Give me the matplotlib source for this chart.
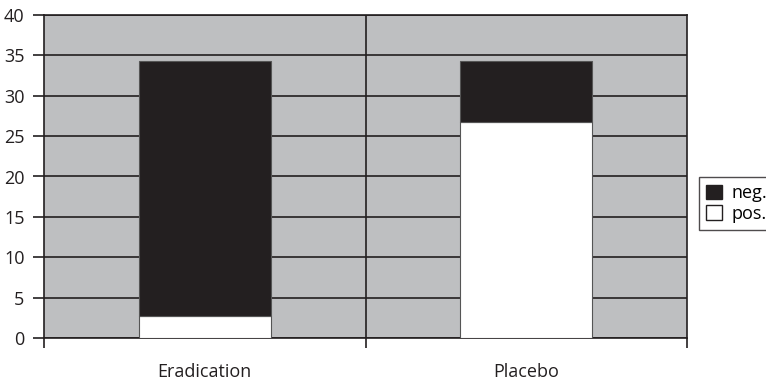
import matplotlib.pyplot as plt
from matplotlib.patches import Patch

# Stacked bar data
groups = ['Eradication', 'Placebo']
pos_vals = [2.7, 26.8]
neg_vals = [31.6, 7.5]
y_ticks = [0, 5, 10, 15, 20, 25, 30, 35, 40]

plt.rcParams['font.family'] = ['Open Sans', 'DejaVu Sans']

fig = plt.figure(figsize=(7.66, 3.84), dpi=100)
ax = fig.add_axes([44 / 766, 1 - 338 / 384, (687 - 44) / 766, (338 - 15) / 384])
ax.set_facecolor('#bebfc1')

x = [0.5, 1.5]
ax.bar(x, pos_vals, width=0.41, color='white', edgecolor='#555555', linewidth=0.8, zorder=3)
ax.bar(x, neg_vals, width=0.41, bottom=pos_vals, color='#231f20',
       edgecolor='#555555', linewidth=0.8, zorder=3)

ax.set_xlim(0, 2)
ax.set_ylim(0, 40)
ax.set_yticks(y_ticks)
ax.set_xticks([0, 1, 2])
ax.set_xticklabels([])
ax.set_xticks(x, minor=True)
ax.set_xticklabels(groups, minor=True)
ax.tick_params(axis='x', which='minor', length=0, pad=18, labelsize=13, colors='#231f20')
ax.tick_params(axis='x', which='major', direction='out', length=7, width=1.2, color='#231f20')
ax.tick_params(axis='y', direction='out', length=8, width=1.2, pad=6, labelsize=13, colors='#231f20')

ax.grid(axis='y', color='#231f20', linewidth=1.2, zorder=1)
ax.axvline(1, color='#231f20', linewidth=1.2, zorder=1)
for s in ax.spines.values():
    s.set_color('#231f20')
    s.set_linewidth(1.2)

handles = [Patch(facecolor='#231f20', edgecolor='#231f20', label='neg.'),
           Patch(facecolor='white', edgecolor='#231f20', label='pos.')]
fig.legend(handles=handles, loc='upper left', bbox_to_anchor=(699 / 766, 1 - 177 / 384),
           frameon=True, fancybox=False, edgecolor='#231f20', fontsize=13,
           handlelength=0.85, handleheight=0.85, handletextpad=0.55,
           borderpad=0.4, labelspacing=0.15, borderaxespad=0)

fig.savefig('out.png', dpi=100)
